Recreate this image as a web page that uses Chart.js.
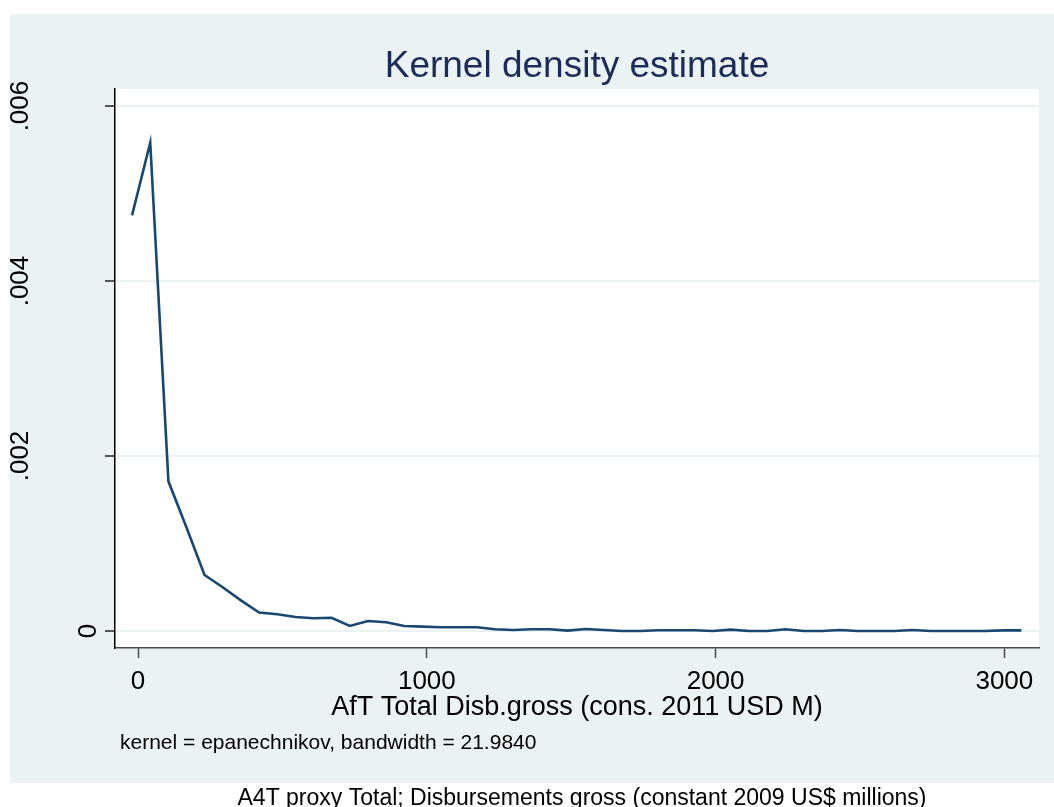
<!DOCTYPE html>
<html>
<head>
<meta charset="utf-8">
<script src="https://cdn.jsdelivr.net/npm/chart.js@4/dist/chart.umd.min.js"></script>
<style>
  html, body { margin: 0; padding: 0; background: #ffffff; }
  #wrap { width: 1054px; height: 807px; position: relative; }
</style>
</head>
<body>
<div id="wrap"><canvas id="kde" width="1054" height="807"></canvas></div>
<script>
// Evaluation grid (USD millions) and estimated density at each grid point
const gridX = [-21, 42, 105, 168, 230, 293, 356, 419, 482, 545,
  608, 670, 733, 796, 859, 922, 985, 1048, 1110, 1173,
  1236, 1299, 1362, 1425, 1488, 1550, 1613, 1676, 1739, 1802,
  1865, 1928, 1990, 2053, 2116, 2179, 2242, 2305, 2368, 2430,
  2493, 2556, 2619, 2682, 2745, 2808, 2870, 2933, 2996, 3059];
const density = [0.00475, 0.00558, 0.00171, 0.00118, 0.00064, 0.00050, 0.00035, 0.00021, 0.00019, 0.00016,
  0.000145, 0.00015, 0.000057, 0.000114, 0.0001, 0.000057, 0.000049, 0.000042, 0.000042, 0.000042,
  0.00002, 0.000011, 0.00002, 0.00002, 0.000004, 0.000023, 0.000011, 0, 0, 0.000008,
  0.000008, 0.000008, 0, 0.000015, 0, 0, 0.00002, 0, 0, 0.00001,
  0, 0, 0, 0.00001, 0, 0, 0, 0, 0.000006, 0.000006];

const xTickValues = [0, 1000, 2000, 3000];
const xTickLabels = ['0', '1000', '2000', '3000'];
const yTickValues = [0, 0.002, 0.004, 0.006];
const yTickLabels = ['0', '.002', '.004', '.006'];

const titleText = 'Kernel density estimate';
const xTitleText = 'AfT Total Disb.gross (cons. 2011 USD M)';
const noteText = 'kernel = epanechnikov, bandwidth = 21.9840';
const captionText = 'A4T proxy Total; Disbursements gross (constant 2009 US$ millions)';

const FONT = '"Liberation Sans", Arial, Helvetica, sans-serif';
const PANEL = '#eaf2f3';
const LINE = '#1a476f';

const points = gridX.map((x, i) => ({ x: x, y: density[i] }));

// Page background, graph panel and white plot region
const backdrop = {
  id: 'backdrop',
  beforeDraw(chart) {
    const { ctx, chartArea: a } = chart;
    ctx.save();
    ctx.fillStyle = '#ffffff';
    ctx.fillRect(0, 0, chart.width, chart.height);
    ctx.fillStyle = PANEL;
    ctx.fillRect(10, 14, chart.width - 10, 769);
    ctx.fillStyle = '#ffffff';
    ctx.fillRect(a.left, a.top, a.right - a.left, a.bottom - a.top);
    ctx.restore();
  }
};

// Titles, tick labels, note and caption
const texts = {
  id: 'texts',
  afterDraw(chart) {
    const { ctx, chartArea: a, scales } = chart;
    const cx = (a.left + a.right) / 2;
    ctx.save();

    ctx.fillStyle = '#1c2b57';
    ctx.font = '37px ' + FONT;
    ctx.textAlign = 'center';
    ctx.textBaseline = 'alphabetic';
    ctx.fillText(titleText, cx, 77);

    ctx.fillStyle = '#000000';
    ctx.font = '26px ' + FONT;
    xTickValues.forEach((v, i) => {
      ctx.fillText(xTickLabels[i], scales.x.getPixelForValue(v), 689);
    });

    // vertical y labels: wider labels sit further out from the axis
    yTickValues.forEach((v, i) => {
      const lbl = yTickLabels[i];
      const w = ctx.measureText(lbl).width;
      const bx = 123 - 1.88 * w;
      ctx.save();
      ctx.translate(bx, scales.y.getPixelForValue(v));
      ctx.rotate(-Math.PI / 2);
      ctx.textAlign = 'center';
      ctx.fillText(lbl, 0, 0);
      ctx.restore();
    });

    ctx.textAlign = 'center';
    ctx.font = '27px ' + FONT;
    ctx.fillText(xTitleText, cx, 715);

    ctx.textAlign = 'left';
    ctx.font = '21px ' + FONT;
    ctx.fillText(noteText, 120, 749);

    ctx.textAlign = 'center';
    ctx.font = '23px ' + FONT;
    ctx.fillText(captionText, 582, 805);

    ctx.restore();
  }
};

new Chart(document.getElementById('kde'), {
  type: 'line',
  data: {
    datasets: [{
      data: points,
      borderColor: LINE,
      borderWidth: 2.6,
      pointRadius: 0,
      fill: false,
      tension: 0
    }]
  },
  options: {
    responsive: false,
    animation: false,
    devicePixelRatio: 1,
    layout: { padding: { left: 0, right: 15, top: 89, bottom: 139 } },
    plugins: { legend: { display: false }, tooltip: { enabled: false }, title: { display: false } },
    scales: {
      x: {
        type: 'linear',
        min: -80,
        max: 3120,
        afterBuildTicks: s => { s.ticks = xTickValues.map(v => ({ value: v })); },
        afterFit: s => { s.height = 20; },
        ticks: { display: false },
        grid: { drawOnChartArea: false, drawTicks: true, tickLength: 10, tickColor: '#4a4a4a', tickWidth: 1.5 },
        border: { display: true, color: '#4a4a4a', width: 1.5 }
      },
      y: {
        type: 'linear',
        min: -0.000195,
        max: 0.006195,
        afterBuildTicks: s => { s.ticks = yTickValues.map(v => ({ value: v })); },
        afterFit: s => { s.width = 115; },
        ticks: { display: false },
        grid: { drawOnChartArea: true, color: PANEL, lineWidth: 2, drawTicks: true, tickLength: 10, tickColor: '#222222', tickWidth: 1.5 },
        border: { display: true, color: '#000000', width: 1.5 }
      }
    }
  },
  plugins: [backdrop, texts]
});
</script>
</body>
</html>
